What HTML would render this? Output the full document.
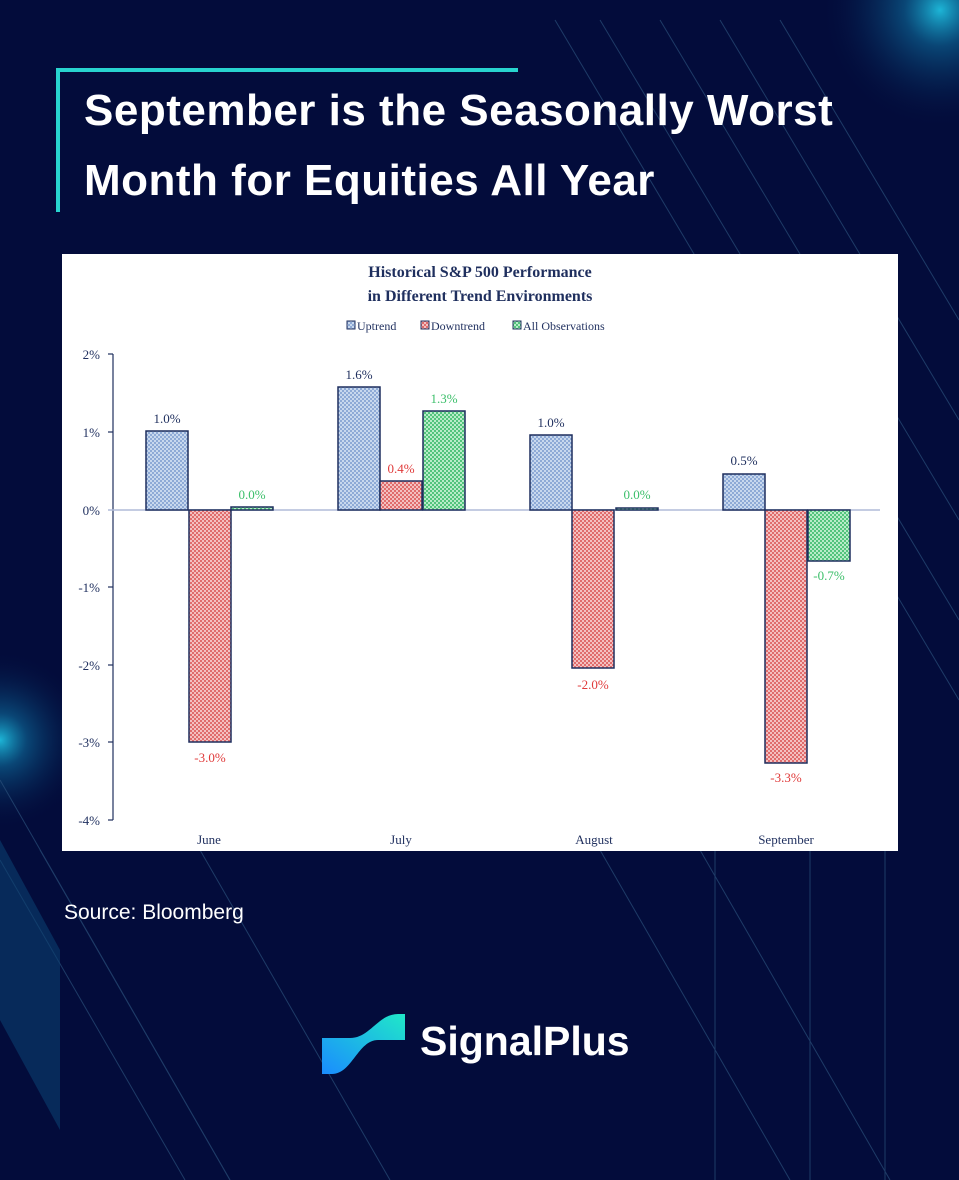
<!DOCTYPE html>
<html><head><meta charset="utf-8"><style>
body{margin:0;width:959px;height:1180px;background:#030c3b;overflow:hidden;position:relative;font-family:"Liberation Sans",sans-serif}
.t{position:absolute;left:84px;color:#fff;font-weight:bold;font-size:44px;letter-spacing:0.5px}
</style></head><body>
<svg width="959" height="1180" style="position:absolute;left:0;top:0">
<defs>
<radialGradient id="g1" cx="0.5" cy="0.5" r="0.5"><stop offset="0" stop-color="#20c8e8" stop-opacity="0.9"/><stop offset="0.3" stop-color="#1080b0" stop-opacity="0.5"/><stop offset="1" stop-color="#030c3b" stop-opacity="0"/></radialGradient>
<linearGradient id="lg" x1="0" y1="1" x2="1" y2="0"><stop offset="0" stop-color="#1a8cff"/><stop offset="1" stop-color="#20e8c8"/></linearGradient>
<pattern id="pb" width="4" height="4" patternUnits="userSpaceOnUse"><rect width="4" height="4" fill="#c8d8ee"/><rect width="2" height="2" fill="#8eaad6"/><rect x="2" y="2" width="2" height="2" fill="#8eaad6"/></pattern>
<pattern id="pr" width="4" height="4" patternUnits="userSpaceOnUse"><rect width="4" height="4" fill="#f4c0c0"/><rect width="2" height="2" fill="#e06c6c"/><rect x="2" y="2" width="2" height="2" fill="#e06c6c"/></pattern>
<pattern id="pg" width="4" height="4" patternUnits="userSpaceOnUse"><rect width="4" height="4" fill="#b8ecc8"/><rect width="2" height="2" fill="#52c47c"/><rect x="2" y="2" width="2" height="2" fill="#52c47c"/></pattern>
</defs>
<circle cx="940" cy="10" r="120" fill="url(#g1)"/>
<circle cx="0" cy="740" r="90" fill="url(#g1)"/>
<g stroke="#2a4f7a" stroke-width="1" opacity="0.7">
<line x1="555" y1="20" x2="959" y2="700"/><line x1="600" y1="20" x2="959" y2="620"/><line x1="660" y1="20" x2="959" y2="520"/><line x1="720" y1="20" x2="959" y2="420"/><line x1="780" y1="20" x2="959" y2="320"/>
<line x1="0" y1="780" x2="230" y2="1180"/><line x1="0" y1="860" x2="185" y2="1180"/><line x1="40" y1="850" x2="230" y2="1180"/><line x1="200" y1="850" x2="390" y2="1180"/><line x1="600" y1="850" x2="790" y2="1180"/><line x1="700" y1="850" x2="890" y2="1180"/>
<line x1="715" y1="850" x2="715" y2="1180"/><line x1="810" y1="850" x2="810" y2="1180"/><line x1="885" y1="850" x2="885" y2="1180"/>
</g>
<polygon points="0,840 60,950 60,1130 0,1020" fill="#0a4070" opacity="0.6"/>
<path d="M58,212 V70 H518" stroke="#28d4cf" stroke-width="4" fill="none"/>
<rect x="62" y="254" width="836" height="597" fill="#fff"/>
<g font-family="Liberation Serif,serif">
<text x="480" y="277" text-anchor="middle" font-size="16" font-weight="bold" fill="#1f2f5e">Historical S&amp;P 500 Performance</text>
<text x="480" y="301" text-anchor="middle" font-size="16" font-weight="bold" fill="#1f2f5e">in Different Trend Environments</text>
<g font-size="12" fill="#1f2f5e">
<rect x="347" y="321" width="8" height="8" fill="url(#pb)" stroke="#1f2f5e"/><text x="357" y="330">Uptrend</text>
<rect x="421" y="321" width="8" height="8" fill="url(#pr)" stroke="#1f2f5e"/><text x="431" y="330">Downtrend</text>
<rect x="513" y="321" width="8" height="8" fill="url(#pg)" stroke="#1f2f5e"/><text x="523" y="330">All Observations</text>
</g>
<g stroke="#1f2f5e" stroke-width="1.2"><line x1="113" y1="354" x2="113" y2="820"/>
<line x1="108" y1="354" x2="113" y2="354"/><line x1="108" y1="432" x2="113" y2="432"/><line x1="108" y1="587" x2="113" y2="587"/><line x1="108" y1="665" x2="113" y2="665"/><line x1="108" y1="742" x2="113" y2="742"/><line x1="108" y1="820" x2="113" y2="820"/></g>
<line x1="108" y1="510" x2="880" y2="510" stroke="#b0bcd8" stroke-width="1.5"/>
<g font-size="13" fill="#1f2f5e" text-anchor="end">
<text x="100" y="359">2%</text><text x="100" y="437">1%</text><text x="100" y="515">0%</text><text x="100" y="592">-1%</text><text x="100" y="670">-2%</text><text x="100" y="747">-3%</text><text x="100" y="825">-4%</text></g>
<g stroke="#1f2f5e" stroke-width="1.5">
<rect x="146" y="431" width="42" height="79" fill="url(#pb)"/><rect x="189" y="510" width="42" height="232" fill="url(#pr)"/><rect x="231" y="507" width="42" height="3" fill="url(#pg)"/>
<rect x="338" y="387" width="42" height="123" fill="url(#pb)"/><rect x="380" y="481" width="42" height="29" fill="url(#pr)"/><rect x="423" y="411" width="42" height="99" fill="url(#pg)"/>
<rect x="530" y="435" width="42" height="75" fill="url(#pb)"/><rect x="572" y="510" width="42" height="158" fill="url(#pr)"/><rect x="616" y="508" width="42" height="2" fill="url(#pg)"/>
<rect x="723" y="474" width="42" height="36" fill="url(#pb)"/><rect x="765" y="510" width="42" height="253" fill="url(#pr)"/><rect x="808" y="510" width="42" height="51" fill="url(#pg)"/>
</g>
<g font-size="13" text-anchor="middle">
<text x="167" y="423" fill="#1f2f5e">1.0%</text><text x="210" y="762" fill="#e03a3a">-3.0%</text><text x="252" y="499" fill="#3cbf6a">0.0%</text>
<text x="359" y="379" fill="#1f2f5e">1.6%</text><text x="401" y="473" fill="#e03a3a">0.4%</text><text x="444" y="403" fill="#3cbf6a">1.3%</text>
<text x="551" y="427" fill="#1f2f5e">1.0%</text><text x="593" y="689" fill="#e03a3a">-2.0%</text><text x="637" y="499" fill="#3cbf6a">0.0%</text>
<text x="744" y="465" fill="#1f2f5e">0.5%</text><text x="786" y="782" fill="#e03a3a">-3.3%</text><text x="829" y="580" fill="#3cbf6a">-0.7%</text>
</g>
<g font-size="13" fill="#1f2f5e" text-anchor="middle"><text x="209" y="844">June</text><text x="401" y="844">July</text><text x="594" y="844">August</text><text x="786" y="844">September</text></g>
</g>
<path d="M322,1038 H350 C370,1038 378,1014 398,1014 H405 V1040 H378 C358,1040 352,1074 332,1074 H322 Z" fill="url(#lg)"/>
</svg>
<div class="t" style="top:86px">September is the Seasonally Worst</div>
<div class="t" style="top:156px">Month for Equities All Year</div>
<div style="position:absolute;left:64px;top:901px;color:#fff;font-size:21px">Source: Bloomberg</div>
<div style="position:absolute;left:420px;top:1018px;color:#fff;font-size:41px;font-weight:bold">SignalPlus</div>
</body></html>
